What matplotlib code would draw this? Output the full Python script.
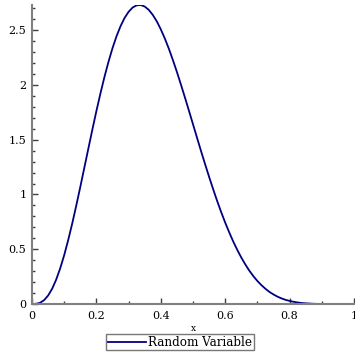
import matplotlib
matplotlib.use('Agg')
import matplotlib.pyplot as plt
from matplotlib.ticker import MultipleLocator

# values
x = [0.0, 0.0125, 0.025, 0.0375, 0.05, 0.0625, 0.075, 0.0875, 0.1, 0.1125,
     0.125, 0.1375, 0.15, 0.1625, 0.175, 0.1875, 0.2, 0.2125, 0.225, 0.2375,
     0.25, 0.2625, 0.275, 0.2875, 0.3, 0.3125, 0.325, 0.3375, 0.35, 0.3625,
     0.375, 0.3875, 0.4, 0.4125, 0.425, 0.4375, 0.45, 0.4625, 0.475, 0.4875,
     0.5, 0.5125, 0.525, 0.5375, 0.55, 0.5625, 0.575, 0.5875, 0.6, 0.6125,
     0.625, 0.6375, 0.65, 0.6625, 0.675, 0.6875, 0.7, 0.7125, 0.725, 0.7375,
     0.75, 0.7625, 0.775, 0.7875, 0.8, 0.8125, 0.825, 0.8375, 0.85, 0.8625,
     0.875, 0.8875, 0.9, 0.9125, 0.925, 0.95, 0.975, 1.0]
y = [0.0, 0.002, 0.011, 0.035, 0.077, 0.139, 0.222, 0.325, 0.446, 0.585,
     0.736, 0.899, 1.069, 1.244, 1.419, 1.593, 1.762, 1.922, 2.073, 2.211,
     2.336, 2.445, 2.537, 2.612, 2.668, 2.707, 2.727, 2.730, 2.716, 2.686,
     2.640, 2.581, 2.508, 2.424, 2.331, 2.228, 2.119, 2.004, 1.885, 1.764,
     1.641, 1.518, 1.396, 1.277, 1.161, 1.049, 0.941, 0.839, 0.743, 0.654,
     0.570, 0.494, 0.424, 0.361, 0.304, 0.254, 0.210, 0.172, 0.139, 0.110,
     0.087, 0.067, 0.051, 0.038, 0.028, 0.020, 0.014, 0.009, 0.006, 0.004,
     0.002, 0.001, 0.001, 0.0, 0.0, 0.0, 0.0, 0.0]

plt.rcParams['font.family'] = 'DejaVu Serif'

fig = plt.figure(figsize=(3.55, 3.55), dpi=100)
ax = fig.add_axes([32/355, 1 - 304/355, 322/355, 299/355])

ax.plot(x, y, color='#000080', lw=1.3, label='Random Variable')

ax.set_xlim(0, 1)
ax.set_ylim(0, 2.73)
ax.xaxis.set_minor_locator(MultipleLocator(0.1))
ax.yaxis.set_minor_locator(MultipleLocator(0.1))
ax.set_xticks([0, 0.2, 0.4, 0.6, 0.8, 1])
ax.set_yticks([0, 0.5, 1, 1.5, 2, 2.5])
ax.set_xticklabels(['0', '0.2', '0.4', '0.6', '0.8', '1'])
ax.set_yticklabels(['0', '0.5', '1', '1.5', '2', '2.5'])

for s in ['top', 'right']:
    ax.spines[s].set_visible(False)
for s in ['left', 'bottom']:
    ax.spines[s].set_color('#808080')
    ax.spines[s].set_linewidth(1.5)

ax.tick_params(which='both', direction='in', color='#404040', labelsize=8)
ax.tick_params(axis='x', pad=5)
ax.tick_params(axis='y', pad=4)
ax.tick_params(which='major', length=4, width=1)
ax.tick_params(which='minor', length=2.5, width=1)

ax.set_xlabel('x', fontsize=6.5, labelpad=2)

ax.legend(loc='upper center', bbox_to_anchor=(0.46, -0.1), fontsize=8.6,
          frameon=True, fancybox=False, edgecolor='#555555', handlelength=3.2,
          borderpad=0.15, handletextpad=0.2, borderaxespad=0)

fig.savefig('out.png', dpi=100)
